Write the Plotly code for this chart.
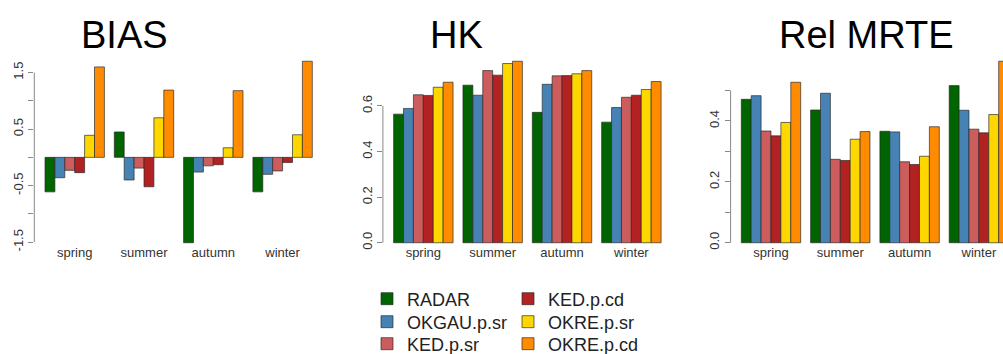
import plotly.graph_objects as go

seasons = ["spring", "summer", "autumn", "winter"]
series = ["RADAR", "OKGAU.p.sr", "KED.p.sr", "KED.p.cd", "OKRE.p.sr", "OKRE.p.cd"]
colors = ["#006400", "#4682B4", "#CD5C5C", "#B22222", "#FFD700", "#FF8C00"]

# BIAS values per series (spring, summer, autumn, winter)
bias_radar = [-0.61, 0.45, -1.51, -0.61]
bias_okgau = [-0.36, -0.40, -0.26, -0.30]
bias_ked_sr = [-0.23, -0.19, -0.15, -0.24]
bias_ked_cd = [-0.27, -0.52, -0.13, -0.09]
bias_okre_sr = [0.39, 0.70, 0.17, 0.40]
bias_okre_cd = [1.60, 1.19, 1.18, 1.70]

# HK values
hk_radar = [0.564, 0.691, 0.572, 0.529]
hk_okgau = [0.589, 0.647, 0.695, 0.593]
hk_ked_sr = [0.649, 0.755, 0.732, 0.638]
hk_ked_cd = [0.646, 0.735, 0.733, 0.647]
hk_okre_sr = [0.682, 0.786, 0.741, 0.672]
hk_okre_cd = [0.704, 0.796, 0.755, 0.707]

# Rel MRTE values
mrte_radar = [0.471, 0.436, 0.366, 0.516]
mrte_okgau = [0.483, 0.491, 0.364, 0.435]
mrte_ked_sr = [0.367, 0.274, 0.266, 0.373]
mrte_ked_cd = [0.351, 0.270, 0.257, 0.361]
mrte_okre_sr = [0.395, 0.340, 0.284, 0.421]
mrte_okre_cd = [0.527, 0.365, 0.381, 0.596]

panels = [
    ("BIAS", [bias_radar, bias_okgau, bias_ked_sr, bias_ked_cd, bias_okre_sr, bias_okre_cd]),
    ("HK", [hk_radar, hk_okgau, hk_ked_sr, hk_ked_cd, hk_okre_sr, hk_okre_cd]),
    ("Rel MRTE", [mrte_radar, mrte_okgau, mrte_ked_sr, mrte_ked_cd, mrte_okre_sr, mrte_okre_cd]),
]

W, H = 1003, 354
xdomains = [[34.3 / W, 323.0 / W], [382.9 / W, 671.8 / W], [730.6 / W, 1.0]]
xranges = [[-0.583, 3.583], [-0.583, 3.583], [-0.583, -0.583 + (1003 - 730.6) / 69.3]]
ydomain = [1 - 250 / H, 1 - 54 / H]
xlabel_pos = 1 - 243 / H
title_x = [124, 456, 866]

y_ticks = [
    ([-1.5, -1, -0.5, 0, 0.5, 1, 1.5], ["-1.5", "", "-0.5", "", "0.5", "", "1.5"]),
    ([0, 0.2, 0.4, 0.6], ["0.0", "0.2", "0.4", "0.6"]),
    ([0, 0.1, 0.2, 0.3, 0.4, 0.5], ["0.0", "", "0.2", "", "0.4", ""]),
]

# legend placement (column x of legend box, row centre y) in pixels
legend_cols = [367, 508]
legend_rows = [299, 322, 344]

fig = go.Figure()
layout = dict(
    width=W, height=H, margin=dict(l=0, r=0, t=0, b=0, autoexpand=False),
    paper_bgcolor="white", plot_bgcolor="white",
    barmode="group", bargap=1 / 7, bargroupgap=0,
    font=dict(family="Liberation Sans, Arial, sans-serif", color="#333"),
    showlegend=True,
)
shapes = []
annotations = []
for p, (title, vals) in enumerate(panels):
    xa = "x" if p == 0 else f"x{p+1}"
    ya = "y" if p == 0 else f"y{p+1}"
    for s, (name, col, v) in enumerate(zip(series, colors, vals)):
        fig.add_trace(go.Bar(
            x=seasons, y=v, name=name, xaxis=xa, yaxis=ya,
            marker=dict(color=col, line=dict(color="rgba(40,40,40,0.85)", width=0.8)),
            showlegend=(p == 0),
            legend="legend" if s == 0 else f"legend{s+1}",
        ))
    allv = [x for row in vals for x in row]
    lo, hi = min(0, min(allv)), max(0, max(allv))
    pad = 0.04 * (hi - lo)
    key = "" if p == 0 else str(p + 1)
    tv, tt = y_ticks[p]
    layout["xaxis" + key] = dict(
        domain=xdomains[p], range=xranges[p], anchor="free", position=xlabel_pos,
        showgrid=False, zeroline=False, showline=False, ticks="",
        tickfont=dict(size=13, color="#333"),
    )
    layout["yaxis" + key] = dict(
        domain=ydomain, range=[lo - pad, hi + pad], anchor=xa,
        showgrid=False, zeroline=False, showline=False,
        tickvals=tv, ticktext=tt, ticks="outside", ticklen=5,
        tickcolor="#888", tickangle=-90,
        tickfont=dict(size=13, color="#333"),
    )
    shapes.append(dict(
        type="line", xref=f"{xa} domain", yref=ya,
        x0=0, x1=0, y0=tv[0], y1=tv[-1],
        line=dict(color="#888", width=1),
    ))
    annotations.append(dict(
        text=title, xref="paper", yref="paper",
        x=title_x[p] / W, y=1 - 35 / H, xanchor="center", yanchor="middle",
        showarrow=False, font=dict(size=38, color="black"),
    ))

layout["shapes"] = shapes
layout["annotations"] = annotations
for s in range(len(series)):
    key = "legend" if s == 0 else f"legend{s+1}"
    layout[key] = dict(
        x=legend_cols[s // 3] / W, y=1 - legend_rows[s % 3] / H,
        xanchor="left", yanchor="middle",
        font=dict(size=18, color="#222"), bgcolor="rgba(0,0,0,0)",
    )
fig.update_layout(**layout)
fig.write_html(
    "out.html",
    config={"displayModeBar": False},
    post_script="document.body.style.margin='0';document.body.style.overflow='hidden';",
)
